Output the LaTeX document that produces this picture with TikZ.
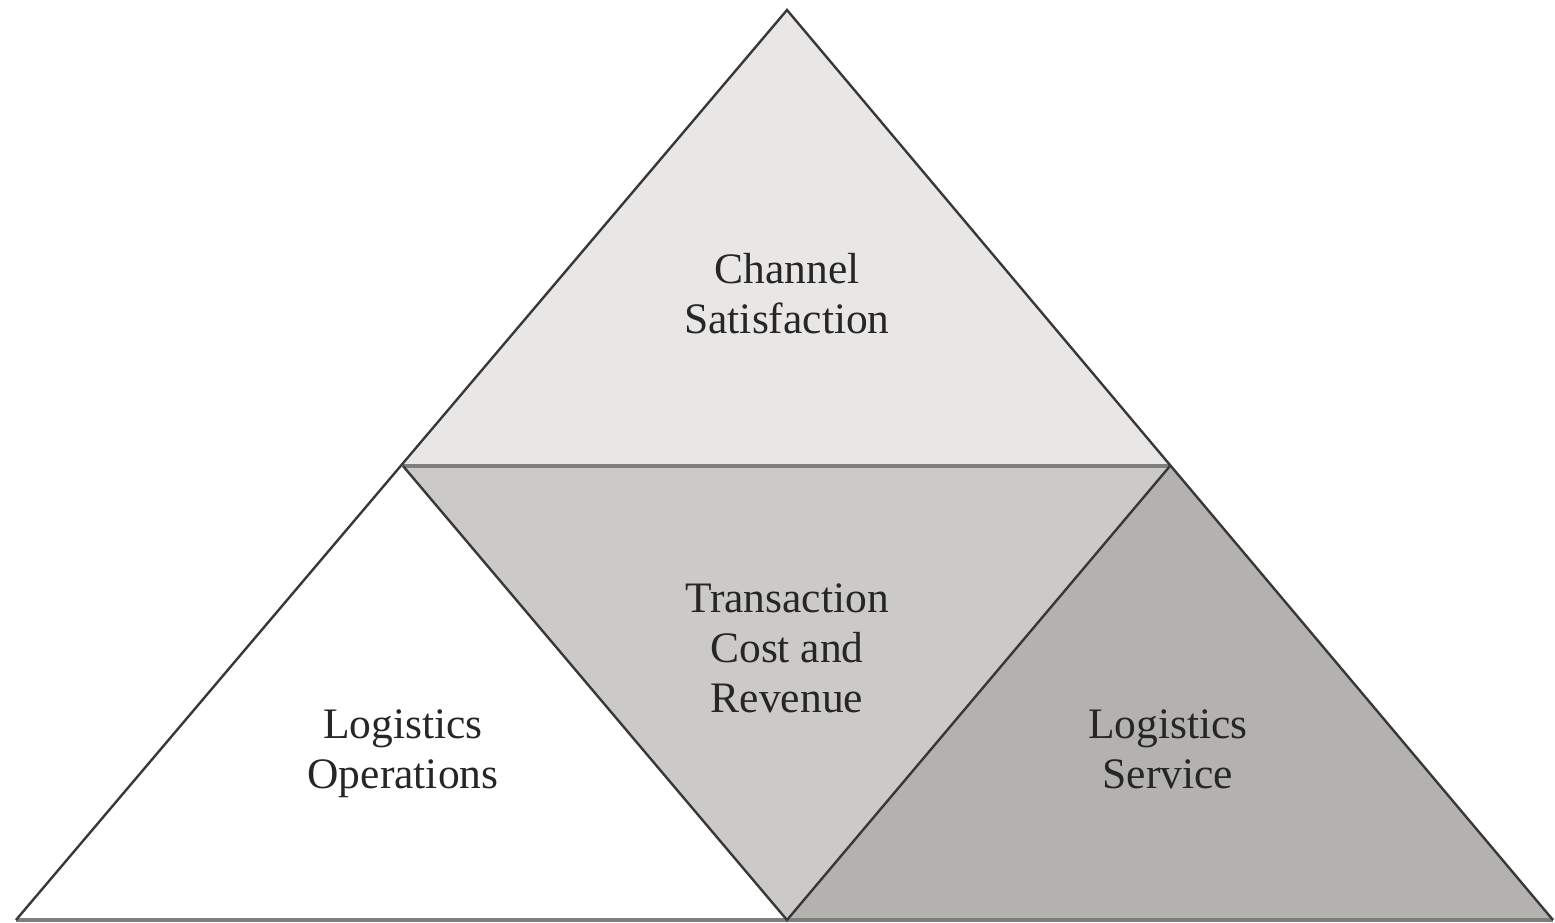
\documentclass[tikz,border=0pt]{standalone}
\usepackage{fontspec}
\setmainfont{Liberation Serif}
\usetikzlibrary{calc}

\definecolor{topGray}{HTML}{E8E7E5}
\definecolor{midGray}{HTML}{CBCAC6}
\definecolor{rightGray}{HTML}{B3B2AE}
\definecolor{edgeDark}{HTML}{383838}
\definecolor{edgeLight}{HTML}{7E7E7C}

\begin{document}
\begin{tikzpicture}[x=1pt,y=-1pt,
    sideLine/.style={draw=edgeDark,line width=2.4pt,line join=miter},
    baseLine/.style={draw=edgeLight,line width=3.6pt},
    label/.style={align=center,font=\fontsize{43.5}{50}\selectfont,text=black!85}]
    \useasboundingbox (0,0) rectangle (1555,923);

    \coordinate (apex) at (787, 10);
    \coordinate (leftCorner) at (16, 920);
    \coordinate (rightCorner) at (1553, 920);
    \coordinate (leftMid) at (403, 466);
    \coordinate (rightMid) at (1170, 466);
    \coordinate (bottomMid) at (787, 920);

    \fill[topGray] (apex) -- (leftMid) -- (rightMid) -- cycle;
    \fill[midGray] (leftMid) -- (rightMid) -- (bottomMid) -- cycle;
    \fill[rightGray] (rightMid) -- (bottomMid) -- (rightCorner) -- cycle;

    \draw[baseLine] (leftMid) -- (rightMid);
    \draw[baseLine] (leftCorner) -- (rightCorner);
    \draw[sideLine] (leftCorner) -- (apex) -- (rightCorner);
    \draw[sideLine] (leftMid) -- (bottomMid) -- (rightMid);

    \node[label] (channelSat) at (787, 294) {Channel\\Satisfaction};
    \node[label] (transCost) at (787, 648) {Transaction\\Cost and\\Revenue};
    \node[label] (logOps) at (403, 754) {Logistics\\Operations};
    \node[label] (logService) at (1168, 749) {Logistics\\Service};
\end{tikzpicture}
\end{document}
